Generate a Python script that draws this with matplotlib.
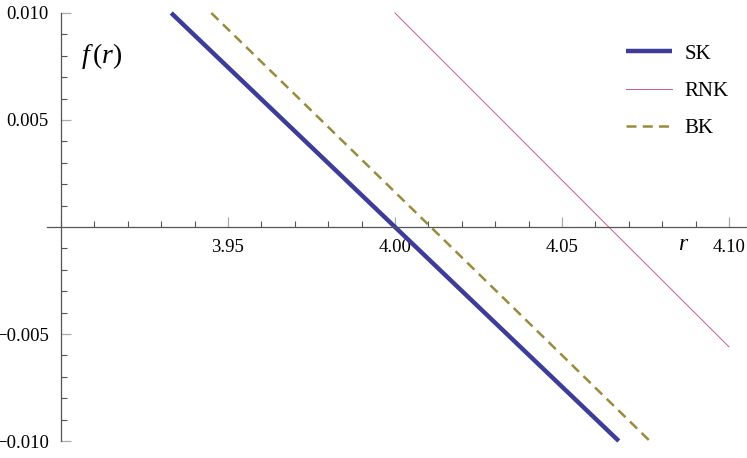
import matplotlib
matplotlib.use("Agg")
import matplotlib.pyplot as plt
from matplotlib.ticker import FixedLocator

plt.rcParams['font.family'] = ['Liberation Serif', 'DejaVu Serif']
plt.rcParams['mathtext.fontset'] = 'custom'
plt.rcParams['mathtext.rm'] = 'Liberation Serif'
plt.rcParams['mathtext.it'] = 'Liberation Serif:italic'

# values
sk_r = [3.933, 4.000, 4.067]
sk_f = [0.010, 0.000, -0.010]
rnk_r = [4.000, 4.064, 4.100]
rnk_f = [0.010, 0.000, -0.0056]
bk_r = [3.945, 4.0107, 4.0763]
bk_f = [0.010, 0.000, -0.010]

x_major = [3.95, 4.00, 4.05, 4.10]
x_labels = ["3.95", "4.00", "4.05", "4.10"]
x_minor = [3.90, 3.91, 3.92, 3.93, 3.94, 3.96, 3.97, 3.98, 3.99,
           4.01, 4.02, 4.03, 4.04, 4.06, 4.07, 4.08, 4.09]
y_major = [-0.010, -0.005, 0.005, 0.010]
y_labels = ["\u22120.010", "\u22120.005", "0.005", "0.010"]
y_minor = [-0.009, -0.008, -0.007, -0.006, -0.004, -0.003, -0.002, -0.001,
           0.001, 0.002, 0.003, 0.004, 0.006, 0.007, 0.008, 0.009]

fig = plt.figure(figsize=(7.47, 4.58), dpi=100)
ax = fig.add_axes([0, 0, 1, 1])

ax.plot(sk_r, sk_f, color='#3d3d99', lw=3.2, label='SK', solid_capstyle='butt')
ax.plot(rnk_r, rnk_f, color='#c25a9e', lw=0.7, label='RNK')
ax.plot(bk_r, bk_f, color='#9a8b3c', lw=1.8, ls=(0, (4, 2.5)), label='BK')

ax.set_xlim(3.88174, 4.10539)
ax.set_ylim(-0.010794, 0.010607)

for s in ['top', 'right']:
    ax.spines[s].set_visible(False)
ax.spines['left'].set_position(('data', 3.90))
ax.spines['bottom'].set_position(('data', 0.0))
ax.spines['left'].set_bounds(-0.010, 0.010)
ax.spines['bottom'].set_bounds(3.8958, 4.105)
for s in ['left', 'bottom']:
    ax.spines[s].set_color('#555555')
    ax.spines[s].set_linewidth(0.9)

ax.xaxis.set_major_locator(FixedLocator(x_major))
ax.set_xticklabels(x_labels)
ax.xaxis.set_minor_locator(FixedLocator(x_minor))
ax.yaxis.set_major_locator(FixedLocator(y_major))
ax.set_yticklabels(y_labels)
ax.yaxis.set_minor_locator(FixedLocator(y_minor))

ax.tick_params(axis='both', which='major', direction='in', length=7, width=0.9,
               color='#aaaaaa', labelsize=13.5)
ax.tick_params(axis='both', which='minor', direction='in', length=4, width=0.8,
               color='#555555')
ax.tick_params(axis='x', pad=9)
ax.tick_params(axis='y', pad=9)

ax.text(4.0865, -0.00084, r'$r$', fontsize=17, ha='center', va='center')
ax.text(3.906, 0.0080, r'$f\,(r)$', fontsize=20, ha='left', va='center')

leg = ax.legend(loc='upper right', bbox_to_anchor=(1.0, 0.945), frameon=False,
                fontsize=15, handlelength=2.2, labelspacing=0.85, handletextpad=0.6)

fig.savefig('out.png', dpi=100)
